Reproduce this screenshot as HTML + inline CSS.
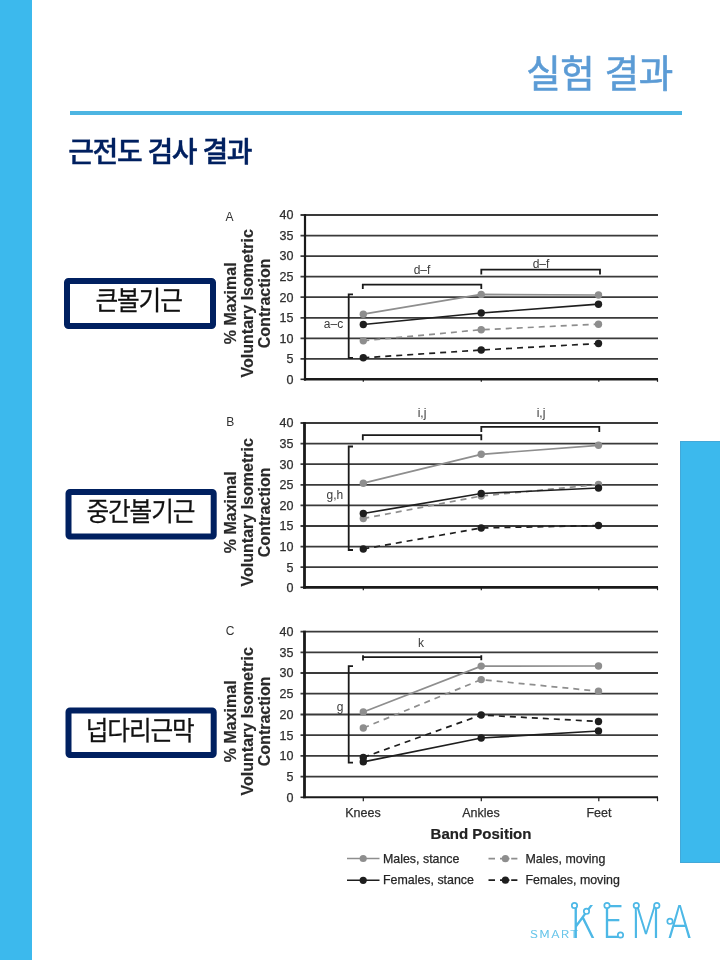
<!DOCTYPE html>
<html lang="ko">
<head>
<meta charset="utf-8">
<title>실험 결과</title>
<style>
html,body{margin:0;padding:0;}
body{width:720px;height:960px;position:relative;overflow:hidden;background:#fff;font-family:"Liberation Sans","Noto Sans CJK KR",sans-serif;}
.lbar{position:absolute;left:0;top:0;width:32px;height:960px;background:#3CB9ED;}
.rbar{position:absolute;left:680px;top:441px;width:40px;height:421.5px;background:#3CB9ED;box-sizing:border-box;border:1px solid #43A8D8;border-right:0;}
.title{font:400 37.5px "Liberation Sans","Noto Sans CJK KR",sans-serif;fill:#5B9BD5;stroke:#5B9BD5;stroke-width:0.6;stroke-linejoin:round;letter-spacing:-0.35px;}
.rule{position:absolute;left:70px;top:111px;width:612px;height:4px;background:#4DB5E2;}
.sub{font:500 28px "Liberation Sans","Noto Sans CJK KR",sans-serif;fill:#002060;stroke:#002060;stroke-width:0.4;stroke-linejoin:round;letter-spacing:-1.45px;}
.bx{fill:#fff;stroke:#002060;stroke-width:6;}
.bt{font:400 26px "Liberation Sans","Noto Sans CJK KR",sans-serif;fill:#111;stroke:#111;stroke-width:0.25;letter-spacing:-1.2px;}
svg{position:absolute;left:0;top:0;}
.tk{font:12.5px "Liberation Sans",sans-serif;fill:#2e2e2e;stroke:#2e2e2e;stroke-width:0.25;}
.lg{font:12.4px "Liberation Sans",sans-serif;fill:#262626;stroke:#262626;stroke-width:0.25;}
.an{font:12px "Liberation Sans",sans-serif;fill:#3a3a3a;}
.pl{font:12px "Liberation Sans",sans-serif;fill:#333;}
.yl{font:bold 16px "Liberation Sans",sans-serif;fill:#2a2a2a;stroke:#2a2a2a;stroke-width:0.15;}
.bp{font:bold 15px "Liberation Sans",sans-serif;fill:#222;stroke:#222;stroke-width:0.2;}
.br{fill:none;stroke:#1a1a1a;stroke-width:1.8;}
.sm{font:300 11px "Noto Sans CJK KR","Liberation Sans",sans-serif;fill:#5BC0E8;stroke:#5BC0E8;stroke-width:0.2;}
.km{font:300 45px "Noto Sans CJK KR","Liberation Sans",sans-serif;fill:#4DB8E6;}
</style>
</head>
<body>
<div class="lbar"></div>
<div class="rbar"></div>
<div class="rule"></div>
<svg width="720" height="960" viewBox="0 0 720 960">
<g>
<line x1="300.5" y1="215.0" x2="658" y2="215.0" stroke="#3a3a3a" stroke-width="1.8"/>
<line x1="300.5" y1="235.6" x2="658" y2="235.6" stroke="#3a3a3a" stroke-width="1.8"/>
<line x1="300.5" y1="256.1" x2="658" y2="256.1" stroke="#3a3a3a" stroke-width="1.8"/>
<line x1="300.5" y1="276.7" x2="658" y2="276.7" stroke="#3a3a3a" stroke-width="1.8"/>
<line x1="300.5" y1="297.2" x2="658" y2="297.2" stroke="#3a3a3a" stroke-width="1.8"/>
<line x1="300.5" y1="317.8" x2="658" y2="317.8" stroke="#3a3a3a" stroke-width="1.8"/>
<line x1="300.5" y1="338.4" x2="658" y2="338.4" stroke="#3a3a3a" stroke-width="1.8"/>
<line x1="300.5" y1="358.9" x2="658" y2="358.9" stroke="#3a3a3a" stroke-width="1.8"/>
<line x1="300.5" y1="379.3" x2="305" y2="379.3" stroke="#2a2a2a" stroke-width="1.6"/>
<line x1="303.9" y1="379.3" x2="658" y2="379.3" stroke="#1a1a1a" stroke-width="2.6"/>
<line x1="305" y1="214.1" x2="305" y2="380.6" stroke="#1a1a1a" stroke-width="2.2"/>
<line x1="363.3" y1="379.3" x2="363.3" y2="381.8" stroke="#1a1a1a" stroke-width="1.2"/>
<line x1="481.3" y1="379.3" x2="481.3" y2="381.8" stroke="#1a1a1a" stroke-width="1.2"/>
<line x1="598.8" y1="379.3" x2="598.8" y2="381.8" stroke="#1a1a1a" stroke-width="1.2"/>
<line x1="657.5" y1="379.3" x2="657.5" y2="381.8" stroke="#1a1a1a" stroke-width="1.2"/>
<text x="293.4" y="219.3" text-anchor="end" class="tk">40</text>
<text x="293.4" y="239.9" text-anchor="end" class="tk">35</text>
<text x="293.4" y="260.4" text-anchor="end" class="tk">30</text>
<text x="293.4" y="281.0" text-anchor="end" class="tk">25</text>
<text x="293.4" y="301.6" text-anchor="end" class="tk">20</text>
<text x="293.4" y="322.1" text-anchor="end" class="tk">15</text>
<text x="293.4" y="342.7" text-anchor="end" class="tk">10</text>
<text x="293.4" y="363.2" text-anchor="end" class="tk">5</text>
<text x="293.4" y="383.8" text-anchor="end" class="tk">0</text>
<path d="M362.8 289V284.6H481.3V289" class="br"/><path d="M481.3 274.5V269.7H600V274.5" class="br"/><path d="M353 294.3H348.7V357.8H353" class="br"/><text x="333.5" y="328.3" text-anchor="middle" class="an">a–c</text><text x="422" y="274.3" text-anchor="middle" class="an">d–f</text><text x="541" y="267.5" text-anchor="middle" class="an">d–f</text><text x="225.4" y="220.5" class="pl">A</text><g transform="translate(0 303.3) rotate(-90)" class="yl" text-anchor="middle"><text x="0" y="236.4">% Maximal</text><text x="0" y="253">Voluntary Isometric</text><text x="0" y="269.8">Contraction</text></g>
<polyline points="363.3,340.8 481.2,329.7 598.5,324.2" fill="none" stroke="#8e8e8e" stroke-width="1.7" stroke-dasharray="6 5"/>
<polyline points="363.3,357.8 481.2,350 598.5,343.5" fill="none" stroke="#1e1e1e" stroke-width="1.7" stroke-dasharray="6 5"/>
<polyline points="363.3,314.2 481.2,294.4 598.5,295" fill="none" stroke="#8e8e8e" stroke-width="1.7"/>
<polyline points="363.3,324.5 481.2,313 598.5,304.2" fill="none" stroke="#1e1e1e" stroke-width="1.7"/>
<circle cx="363.3" cy="340.8" r="3.7" fill="#8e8e8e"/>
<circle cx="481.2" cy="329.7" r="3.7" fill="#8e8e8e"/>
<circle cx="598.5" cy="324.2" r="3.7" fill="#8e8e8e"/>
<circle cx="363.3" cy="357.8" r="3.7" fill="#1e1e1e"/>
<circle cx="481.2" cy="350" r="3.7" fill="#1e1e1e"/>
<circle cx="598.5" cy="343.5" r="3.7" fill="#1e1e1e"/>
<circle cx="363.3" cy="314.2" r="3.7" fill="#8e8e8e"/>
<circle cx="481.2" cy="294.4" r="3.7" fill="#8e8e8e"/>
<circle cx="598.5" cy="295" r="3.7" fill="#8e8e8e"/>
<circle cx="363.3" cy="324.5" r="3.7" fill="#1e1e1e"/>
<circle cx="481.2" cy="313" r="3.7" fill="#1e1e1e"/>
<circle cx="598.5" cy="304.2" r="3.7" fill="#1e1e1e"/>
</g>
<g>
<line x1="300.5" y1="423.0" x2="658" y2="423.0" stroke="#3a3a3a" stroke-width="1.8"/>
<line x1="300.5" y1="443.6" x2="658" y2="443.6" stroke="#3a3a3a" stroke-width="1.8"/>
<line x1="300.5" y1="464.2" x2="658" y2="464.2" stroke="#3a3a3a" stroke-width="1.8"/>
<line x1="300.5" y1="484.8" x2="658" y2="484.8" stroke="#3a3a3a" stroke-width="1.8"/>
<line x1="300.5" y1="505.4" x2="658" y2="505.4" stroke="#3a3a3a" stroke-width="1.8"/>
<line x1="300.5" y1="526.0" x2="658" y2="526.0" stroke="#3a3a3a" stroke-width="1.8"/>
<line x1="300.5" y1="546.6" x2="658" y2="546.6" stroke="#3a3a3a" stroke-width="1.8"/>
<line x1="300.5" y1="567.2" x2="658" y2="567.2" stroke="#3a3a3a" stroke-width="1.8"/>
<line x1="300.5" y1="587.3" x2="304.5" y2="587.3" stroke="#2a2a2a" stroke-width="1.6"/>
<line x1="303.1" y1="587.3" x2="658" y2="587.3" stroke="#1a1a1a" stroke-width="2.8"/>
<line x1="304.5" y1="422.1" x2="304.5" y2="588.7" stroke="#1a1a1a" stroke-width="2.8"/>
<line x1="363.3" y1="587.3" x2="363.3" y2="590.2" stroke="#1a1a1a" stroke-width="1.2"/>
<line x1="481.3" y1="587.3" x2="481.3" y2="590.2" stroke="#1a1a1a" stroke-width="1.2"/>
<line x1="598.8" y1="587.3" x2="598.8" y2="590.2" stroke="#1a1a1a" stroke-width="1.2"/>
<line x1="657.5" y1="587.3" x2="657.5" y2="590.2" stroke="#1a1a1a" stroke-width="1.2"/>
<text x="293.4" y="427.3" text-anchor="end" class="tk">40</text>
<text x="293.4" y="447.9" text-anchor="end" class="tk">35</text>
<text x="293.4" y="468.5" text-anchor="end" class="tk">30</text>
<text x="293.4" y="489.1" text-anchor="end" class="tk">25</text>
<text x="293.4" y="509.7" text-anchor="end" class="tk">20</text>
<text x="293.4" y="530.3" text-anchor="end" class="tk">15</text>
<text x="293.4" y="550.9" text-anchor="end" class="tk">10</text>
<text x="293.4" y="571.5" text-anchor="end" class="tk">5</text>
<text x="293.4" y="592.1" text-anchor="end" class="tk">0</text>
<path d="M362.8 440.3V435.2H481.3V440.3" class="br"/><path d="M481.3 432V426.9H599.3V432" class="br"/><path d="M353 446.5H348.7V550H353" class="br"/><text x="334.8" y="499.4" text-anchor="middle" class="an">g,h</text><text x="422" y="417" text-anchor="middle" class="an">i,j</text><text x="541" y="417" text-anchor="middle" class="an">i,j</text><text x="226.2" y="426" class="pl">B</text><g transform="translate(0 512.3) rotate(-90)" class="yl" text-anchor="middle"><text x="0" y="236.4">% Maximal</text><text x="0" y="253">Voluntary Isometric</text><text x="0" y="269.8">Contraction</text></g>
<polyline points="363.3,518.5 481.2,496 598.5,484.5" fill="none" stroke="#8e8e8e" stroke-width="1.7" stroke-dasharray="6 5"/>
<polyline points="363.3,549 481.2,528 598.5,525.5" fill="none" stroke="#1e1e1e" stroke-width="1.7" stroke-dasharray="6 5"/>
<polyline points="363.3,483.2 481.2,454.3 598.5,445.3" fill="none" stroke="#8e8e8e" stroke-width="1.7"/>
<polyline points="363.3,513.5 481.2,493.5 598.5,488" fill="none" stroke="#1e1e1e" stroke-width="1.7"/>
<circle cx="363.3" cy="518.5" r="3.7" fill="#8e8e8e"/>
<circle cx="481.2" cy="496" r="3.7" fill="#8e8e8e"/>
<circle cx="598.5" cy="484.5" r="3.7" fill="#8e8e8e"/>
<circle cx="363.3" cy="549" r="3.7" fill="#1e1e1e"/>
<circle cx="481.2" cy="528" r="3.7" fill="#1e1e1e"/>
<circle cx="598.5" cy="525.5" r="3.7" fill="#1e1e1e"/>
<circle cx="363.3" cy="483.2" r="3.7" fill="#8e8e8e"/>
<circle cx="481.2" cy="454.3" r="3.7" fill="#8e8e8e"/>
<circle cx="598.5" cy="445.3" r="3.7" fill="#8e8e8e"/>
<circle cx="363.3" cy="513.5" r="3.7" fill="#1e1e1e"/>
<circle cx="481.2" cy="493.5" r="3.7" fill="#1e1e1e"/>
<circle cx="598.5" cy="488" r="3.7" fill="#1e1e1e"/>
</g>
<g>
<line x1="300.5" y1="631.6" x2="658" y2="631.6" stroke="#3a3a3a" stroke-width="1.8"/>
<line x1="300.5" y1="652.3" x2="658" y2="652.3" stroke="#3a3a3a" stroke-width="1.8"/>
<line x1="300.5" y1="673.0" x2="658" y2="673.0" stroke="#3a3a3a" stroke-width="1.8"/>
<line x1="300.5" y1="693.7" x2="658" y2="693.7" stroke="#3a3a3a" stroke-width="1.8"/>
<line x1="300.5" y1="714.5" x2="658" y2="714.5" stroke="#3a3a3a" stroke-width="1.8"/>
<line x1="300.5" y1="735.2" x2="658" y2="735.2" stroke="#3a3a3a" stroke-width="1.8"/>
<line x1="300.5" y1="755.9" x2="658" y2="755.9" stroke="#3a3a3a" stroke-width="1.8"/>
<line x1="300.5" y1="776.6" x2="658" y2="776.6" stroke="#3a3a3a" stroke-width="1.8"/>
<line x1="300.5" y1="797.3" x2="304.5" y2="797.3" stroke="#2a2a2a" stroke-width="1.6"/>
<line x1="303.1" y1="797.3" x2="658" y2="797.3" stroke="#1a1a1a" stroke-width="1.9"/>
<line x1="304.5" y1="630.7" x2="304.5" y2="798.2" stroke="#1a1a1a" stroke-width="2.8"/>
<line x1="363.3" y1="797.3" x2="363.3" y2="801.2" stroke="#1a1a1a" stroke-width="1.2"/>
<line x1="481.3" y1="797.3" x2="481.3" y2="801.2" stroke="#1a1a1a" stroke-width="1.2"/>
<line x1="598.8" y1="797.3" x2="598.8" y2="801.2" stroke="#1a1a1a" stroke-width="1.2"/>
<line x1="657.5" y1="797.3" x2="657.5" y2="801.2" stroke="#1a1a1a" stroke-width="1.2"/>
<text x="293.4" y="635.9" text-anchor="end" class="tk">40</text>
<text x="293.4" y="656.6" text-anchor="end" class="tk">35</text>
<text x="293.4" y="677.3" text-anchor="end" class="tk">30</text>
<text x="293.4" y="698.0" text-anchor="end" class="tk">25</text>
<text x="293.4" y="718.8" text-anchor="end" class="tk">20</text>
<text x="293.4" y="739.5" text-anchor="end" class="tk">15</text>
<text x="293.4" y="760.2" text-anchor="end" class="tk">10</text>
<text x="293.4" y="780.9" text-anchor="end" class="tk">5</text>
<text x="293.4" y="801.6" text-anchor="end" class="tk">0</text>
<path d="M362.8 657.2H481.3M363 655.2V660.4M481.3 655.2V660.3" class="br"/><path d="M353 666.1H348.7V762.6H353" class="br"/><text x="340" y="711" text-anchor="middle" class="an">g</text><text x="421" y="647" text-anchor="middle" class="an">k</text><text x="225.8" y="634.6" class="pl">C</text><g transform="translate(0 721.3) rotate(-90)" class="yl" text-anchor="middle"><text x="0" y="236.4">% Maximal</text><text x="0" y="253">Voluntary Isometric</text><text x="0" y="269.8">Contraction</text></g>
<polyline points="363.3,728 481.2,679.6 598.5,691.2" fill="none" stroke="#8e8e8e" stroke-width="1.7" stroke-dasharray="6 5"/>
<polyline points="363.3,757.4 481.2,715 598.5,721.5" fill="none" stroke="#1e1e1e" stroke-width="1.7" stroke-dasharray="6 5"/>
<polyline points="363.3,712 481.2,666.1 598.5,666" fill="none" stroke="#8e8e8e" stroke-width="1.7"/>
<polyline points="363.3,761.8 481.2,738 598.5,731" fill="none" stroke="#1e1e1e" stroke-width="1.7"/>
<circle cx="363.3" cy="728" r="3.7" fill="#8e8e8e"/>
<circle cx="481.2" cy="679.6" r="3.7" fill="#8e8e8e"/>
<circle cx="598.5" cy="691.2" r="3.7" fill="#8e8e8e"/>
<circle cx="363.3" cy="757.4" r="3.7" fill="#1e1e1e"/>
<circle cx="481.2" cy="715" r="3.7" fill="#1e1e1e"/>
<circle cx="598.5" cy="721.5" r="3.7" fill="#1e1e1e"/>
<circle cx="363.3" cy="712" r="3.7" fill="#8e8e8e"/>
<circle cx="481.2" cy="666.1" r="3.7" fill="#8e8e8e"/>
<circle cx="598.5" cy="666" r="3.7" fill="#8e8e8e"/>
<circle cx="363.3" cy="761.8" r="3.7" fill="#1e1e1e"/>
<circle cx="481.2" cy="738" r="3.7" fill="#1e1e1e"/>
<circle cx="598.5" cy="731" r="3.7" fill="#1e1e1e"/>
</g>

<text x="672.8" y="87.3" text-anchor="end" class="title">실험 결과</text>
<text x="68.3" y="162.3" class="sub">근전도 검사 결과</text>
<rect x="67" y="281" width="146" height="45" rx="1.5" class="bx"/>
<text transform="translate(138.6 310.3) scale(0.95 1.01)" text-anchor="middle" class="bt">큰볼기근</text>
<rect x="68.5" y="492" width="145.2" height="44.5" rx="1.5" class="bx"/>
<text transform="translate(140.4 521.4) scale(0.95 1.01)" text-anchor="middle" class="bt">중간볼기근</text>
<rect x="68.5" y="710.5" width="145.2" height="44.5" rx="1.5" class="bx"/>
<text transform="translate(139.7 740) scale(0.95 1.01)" text-anchor="middle" class="bt">넙다리근막</text>


<text x="363" y="817.1" text-anchor="middle" class="tk">Knees</text>
<text x="481" y="817.1" text-anchor="middle" class="tk">Ankles</text>
<text x="599" y="817.1" text-anchor="middle" class="tk">Feet</text>
<text x="481" y="839.1" text-anchor="middle" class="bp">Band Position</text>
<line x1="347" y1="858.5" x2="379.5" y2="858.5" stroke="#8e8e8e" stroke-width="1.6"/>
<circle cx="363.2" cy="858.5" r="3.6" fill="#8e8e8e"/>
<text x="383" y="862.9" class="lg">Males, stance</text>
<line x1="347" y1="880.3" x2="379.5" y2="880.3" stroke="#1e1e1e" stroke-width="1.6"/>
<circle cx="363.2" cy="880.3" r="3.6" fill="#1e1e1e"/>
<text x="383" y="884.3" class="lg">Females, stance</text>
<path d="M488.5 858.7H495M500 858.7H509.5M511.2 858.7H517.4" stroke="#8e8e8e" stroke-width="1.8"/>
<circle cx="505.4" cy="858.7" r="3.6" fill="#8e8e8e"/>
<text x="525.5" y="862.9" class="lg">Males, moving</text>
<path d="M488.5 880.2H495M500 880.2H509.5M511.2 880.2H517.4" stroke="#1e1e1e" stroke-width="1.8"/>
<circle cx="505.4" cy="880.2" r="3.6" fill="#1e1e1e"/>
<text x="525.5" y="884.3" class="lg">Females, moving</text>


<g class="logo">
<text transform="translate(530 938.4) scale(1.22 1)" class="sm" textLength="39.5" lengthAdjust="spacing">SMART</text>
<text x="0" y="938.2" class="km" transform="translate(570.6 0) scale(0.86 1)" textLength="140" lengthAdjust="spacing">KEMA</text>
<g fill="#fff" stroke="#4DB8E6" stroke-width="1.7">
<circle cx="574.5" cy="905.5" r="2.7"/><circle cx="586.5" cy="911.3" r="2.7"/>
<circle cx="607" cy="905.5" r="2.7"/><circle cx="620.5" cy="935" r="2.7"/>
<circle cx="636.3" cy="905.5" r="2.7"/><circle cx="656.8" cy="905.5" r="2.7"/>
<circle cx="670" cy="921.3" r="2.7"/>
</g>
</g>

</svg>
</body>
</html>
